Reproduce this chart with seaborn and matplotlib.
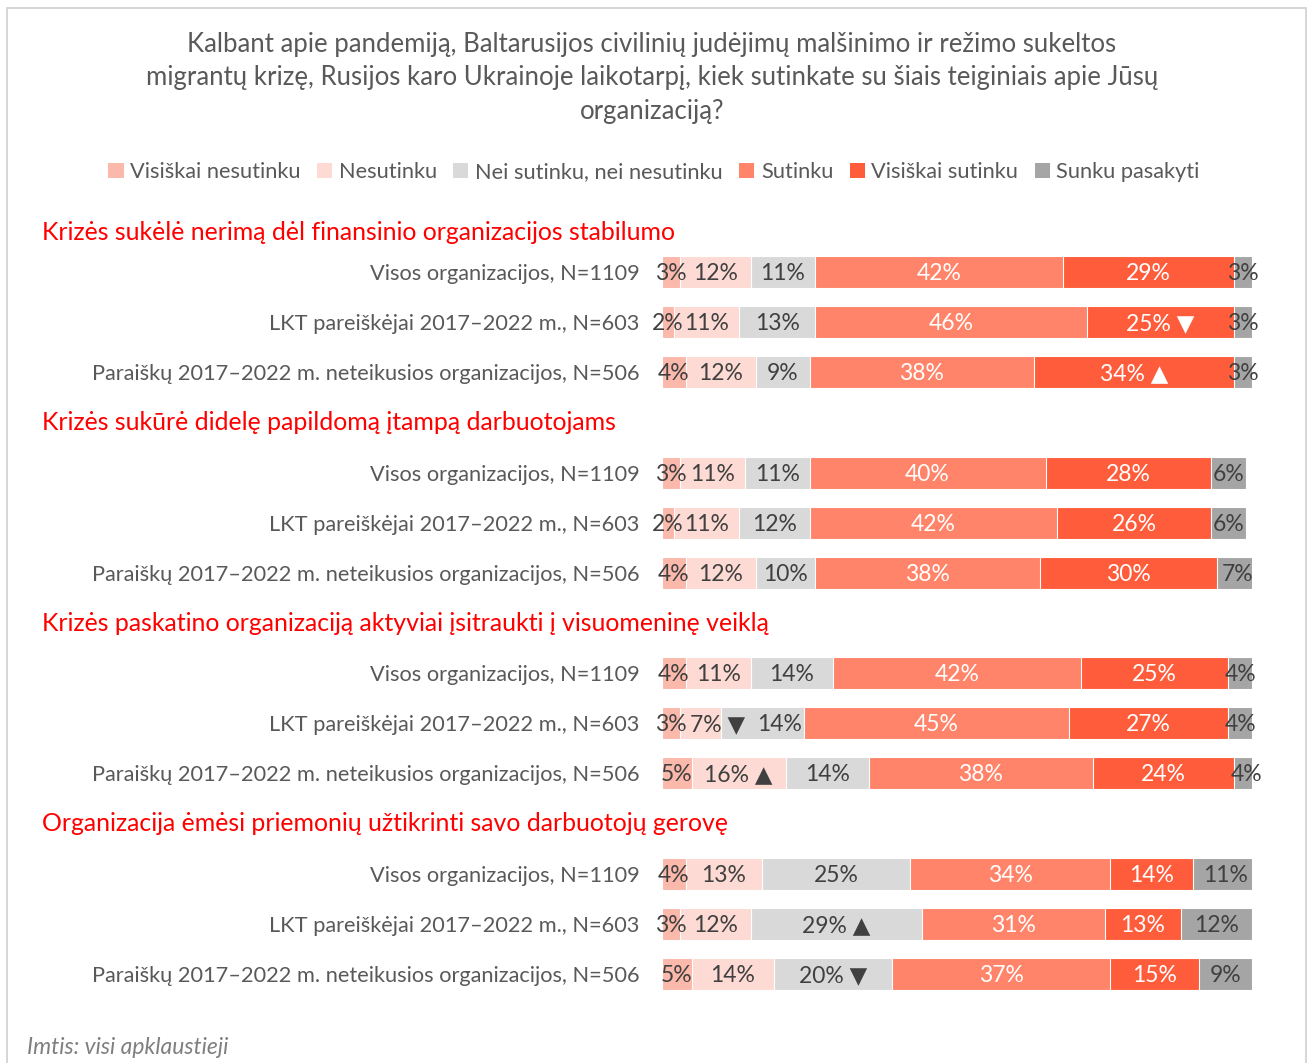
import matplotlib
matplotlib.use("Agg")
import matplotlib.pyplot as plt
from matplotlib.patches import Patch, Rectangle
import seaborn as sns
import pandas as pd
import numpy as np

# ---- data -------------------------------------------------------------
title = ("Kalbant apie pandemiją, Baltarusijos civilinių judėjimų malšinimo ir režimo sukeltos\n"
         "migrantų krizę, Rusijos karo Ukrainoje laikotarpį, kiek sutinkate su šiais teiginiais apie Jūsų\n"
         "organizaciją?")

answers = ["Visiškai nesutinku", "Nesutinku", "Nei sutinku, nei nesutinku",
           "Sutinku", "Visiškai sutinku", "Sunku pasakyti"]

statements = [
    "Krizės sukėlė nerimą dėl finansinio organizacijos stabilumo",
    "Krizės sukūrė didelę papildomą įtampą darbuotojams",
    "Krizės paskatino organizaciją aktyviai įsitraukti į visuomeninę veiklą",
    "Organizacija ėmėsi priemonių užtikrinti savo darbuotojų gerovę",
]

groups = [
    "Visos organizacijos, N=1109",
    "LKT pareiškėjai 2017–2022 m., N=603",
    "Paraiškų 2017–2022 m. neteikusios organizacijos, N=506",
]

# percentages per statement, per group, in the order of `answers`
s1_values = [[3, 12, 11, 42, 29, 3],
             [2, 11, 13, 46, 25, 3],
             [4, 12, 9, 38, 34, 3]]
s2_values = [[3, 11, 11, 40, 28, 6],
             [2, 11, 12, 42, 26, 6],
             [4, 12, 10, 38, 30, 7]]
s3_values = [[4, 11, 14, 42, 25, 4],
             [3, 7, 14, 45, 27, 4],
             [5, 16, 14, 38, 24, 4]]
s4_values = [[4, 13, 25, 34, 14, 11],
             [3, 12, 29, 31, 13, 12],
             [5, 14, 20, 37, 15, 9]]

# significant-difference markers: (statement, group, answer) -> symbol
markers = {
    (0, 1, 4): "▼", (0, 2, 4): "▲",
    (2, 1, 1): "▼", (2, 2, 1): "▲",
    (3, 1, 2): "▲", (3, 2, 2): "▼",
}

footnote = "Imtis: visi apklaustieji"

# ---- styling ----------------------------------------------------------
colors = ["#FBB9AB", "#FDDAD4", "#D9D9D9", "#FF8469", "#FF5C3B", "#A5A5A5"]
text_on = ["#404040", "#404040", "#404040", "white", "white", "#404040"]
gray = "#595959"
red = "#FF0000"
# horizontal nudges (in % units) for labels in crowded segments
label_nudge = {(2, 1, 1): 3.0, (2, 1, 2): 3.0}

sns.set_theme(style="white")
plt.rcParams["font.family"] = ["Lato", "DejaVu Sans"]

# ---- long-format table ------------------------------------------------
all_values = [s1_values, s2_values, s3_values, s4_values]
order = []
records = []
for si, vals in enumerate(all_values):
    order.append(f"h{si}")
    for gi, row in enumerate(vals):
        rid = f"s{si}g{gi}"
        order.append(rid)
        cum = np.cumsum(row)
        for ai, v in enumerate(row):
            records.append(dict(row=rid, stmt=si, grp=gi, answer=answers[ai],
                                aidx=ai, value=v, cum=cum[ai]))
df = pd.DataFrame(records)

W, H = 1307, 1063
fig = plt.figure(figsize=(W / 100, H / 100), dpi=100)
ax = fig.add_axes([662 / W, 1 - 999 / H, 590 / W, 802 / H])

# stacked bars: draw cumulative totals from the longest to the shortest
for ai in range(len(answers) - 1, -1, -1):
    sub = df[df["aidx"] == ai]
    sns.barplot(data=sub, x="cum", y="row", order=order, orient="h",
                color=colors[ai], saturation=1, width=0.64,
                edgecolor="white", linewidth=0.8, ax=ax, errorbar=None)

# value labels
for _, r in df.iterrows():
    key = (r["stmt"], r["grp"], r["aidx"])
    ypos = order.index(r["row"])
    label = f"{r['value']}%"
    if key in markers:
        label += " " + markers[key]
    xpos = r["cum"] - r["value"] / 2 + label_nudge.get(key, 0.0)
    ax.text(xpos, ypos + 0.03, label, ha="center", va="center",
            fontsize=16.5, color=text_on[r["aidx"]])

ax.set_xlim(0, 100)
ax.set_ylim(len(order) - 0.5, -0.5)
ax.set_xlabel("")
ax.set_ylabel("")
ax.set_xticks([])
ax.set_yticks(range(len(order)))
ax.set_yticklabels(["" if o.startswith("h") else groups[int(o[-1])] for o in order],
                   fontsize=15.7, color=gray)
ax.tick_params(axis="y", length=0, pad=16)
sns.despine(ax=ax, left=True, bottom=True)

# statement headings
for si, st in enumerate(statements):
    ypos = order.index(f"h{si}") + (0.2 if si == 0 else 0.0)
    yfig = fig.transFigure.inverted().transform(ax.transData.transform((0, ypos)))[1]
    fig.text(42 / W, yfig, st, ha="left", va="center", fontsize=17.9, color=red)

# title, legend, footnote
fig.text(652 / W, 1 - 78 / H, title, ha="center", va="center", fontsize=18.5,
         color=gray, linespacing=1.44)

handles = [Patch(facecolor=c, edgecolor="none") for c in colors]
fig.legend(handles, answers, loc="center", bbox_to_anchor=(654 / W, 1 - 172 / H),
           ncol=6, frameon=False, fontsize=15.7, labelcolor=gray,
           handlelength=0.7, handleheight=0.7, handletextpad=0.3,
           columnspacing=0.75)

fig.text(27 / W, 1 - 1047 / H, footnote, ha="left", va="center", fontsize=16.5,
         color="#7F7F7F", style="italic")

# outer frame
fig.patches.append(Rectangle((7 / W, -0.02), 1299 / W, 1.02 - 8 / H,
                             transform=fig.transFigure, fill=False,
                             edgecolor="#D0D0D0", linewidth=1.2))

fig.savefig("out.png", dpi=100, facecolor="white")
